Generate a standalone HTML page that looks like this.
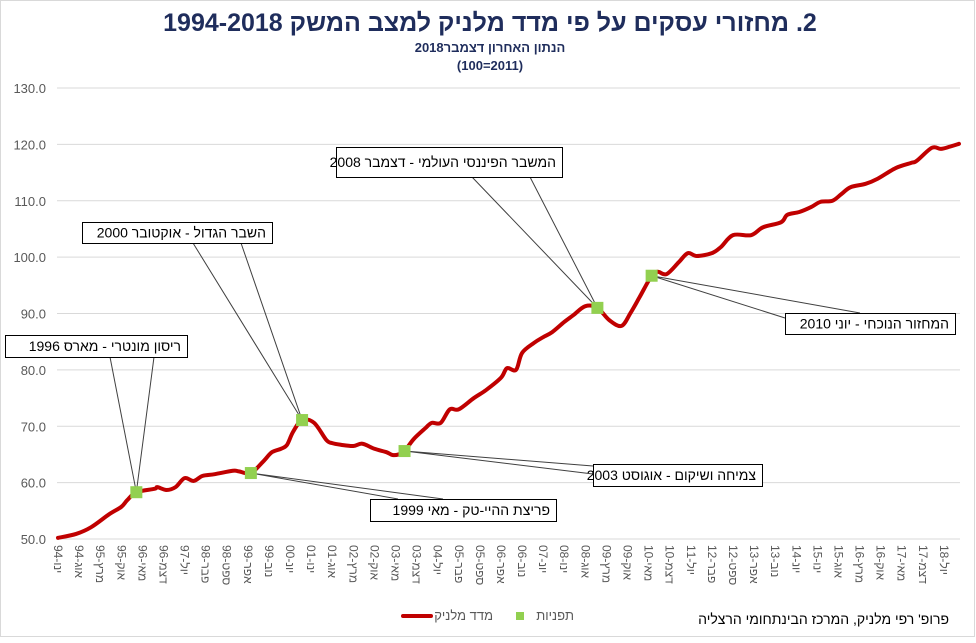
<!DOCTYPE html>
<html><head><meta charset="utf-8"><style>
body{margin:0;background:#fff}
svg text{font-family:"Liberation Sans","DejaVu Sans",sans-serif}
</style></head><body>
<svg id="chart" width="976" height="638" xmlns="http://www.w3.org/2000/svg">
<rect x="0.5" y="0.5" width="974" height="636" fill="#fff" stroke="#d9d9d9"/>
<text x="490" y="31" text-anchor="middle" font-size="25" font-weight="bold" fill="#1f2d5c" direction="rtl">2. מחזורי עסקים על פי מדד מלניק למצב המשק 1994-2018</text>
<text x="490" y="52" text-anchor="middle" font-size="13" font-weight="bold" fill="#1f2d5c" direction="rtl">הנתון האחרון דצמבר2018</text>
<text x="490" y="70" text-anchor="middle" font-size="13" font-weight="bold" fill="#1f2d5c">(100=2011)</text>
<g id="grid"></g><g id="yaxis"></g><g id="xaxis"></g><g id="callouts"></g><g id="series"></g>
<g>
<line x1="403" y1="616" x2="431" y2="616" stroke="#c00000" stroke-width="4" stroke-linecap="round"/>
<text x="493" y="620" text-anchor="start" direction="rtl" font-size="13" fill="#595959">מדד מלניק</text>
<rect x="516" y="612" width="8" height="8" fill="#92d050"/>
<text x="574" y="620" text-anchor="start" direction="rtl" font-size="13" fill="#595959">תפניות</text>
</g>
<text x="949" y="624" text-anchor="start" font-size="14" fill="#000" direction="rtl">פרופ' רפי מלניק, המרכז הבינתחומי הרצליה</text>
</svg>
<script>
const yTicks=[50,60,70,80,90,100,110,120,130];
const monthNames=["ינו","פבר","מרץ","אפר","מאי","יונ","יול","אוג","ספט","אוק","נוב","דצמ"];
const months=[0,6,11,17,21,23,26,32,33,36,39,42,45,48,52,58,60,64,68,71,74,76,78,81,85,89,91,94,98,101,105,109,111,113,115,118,122,124,127,130,133,138,142,147,149,152,154,158,161,164,168,171,175,179,183,187,190,193,197,199,202,206,209,212,217,220,224,230,234,240,242,246,250,253,257,260,263,268,272,278,283,285,290,293,296,299];
const values=[50.2,50.9,52.1,54.4,55.7,56.9,58.3,58.9,59.2,58.7,59.2,60.8,60.3,61.2,61.5,62.1,62.0,61.7,63.7,65.4,66.0,66.7,69.0,71.1,70.6,67.6,67.0,66.7,66.5,66.9,66.0,65.4,64.9,65.0,65.6,67.7,69.7,70.6,70.6,73.0,73.0,75.0,76.4,78.6,80.3,80.0,83.0,84.8,85.8,86.7,88.5,89.7,91.3,91.0,88.8,87.8,90.1,92.9,96.7,97.4,97.0,99.1,100.7,100.2,100.7,101.8,103.9,103.9,105.3,106.2,107.5,108.0,108.9,109.8,110.0,111.2,112.4,113.0,113.9,115.8,116.7,117.1,119.4,119.2,119.6,120.1];
const turnMonths=[26,64,81,115,179,197];
const turnValues=[58.3,61.7,71.1,65.6,91.0,96.7];
const turnLabels=["ריסון מונטרי - מארס 1996","פריצת ההיי-טק - מאי 1999","השבר הגדול - אוקטובר 2000","צמיחה ושיקום - אוגוסט 2003","המשבר הפיננסי העולמי - דצמבר 2008","המחזור הנוכחי - יוני 2010"];
const NS="http://www.w3.org/2000/svg";
const X0=58,X1=959,Y0=539,Y1=88;
function xs(m){return X0+m*(X1-X0)/299;}
function ys(v){return Y0-(v-50)*(Y0-Y1)/80;}
function mk(t,a,p){const e=document.createElementNS(NS,t);for(const k in a)e.setAttribute(k,a[k]);(p||document.getElementById('chart')).appendChild(e);return e;}
const grid=document.getElementById('grid'),ya=document.getElementById('yaxis'),xa=document.getElementById('xaxis');
yTicks.forEach(v=>{
 const l=mk('line',{x1:X0-1,x2:960,y1:ys(v),y2:ys(v),stroke:'#d9d9d9','stroke-width':1},grid);
 
 
 const t=mk('text',{x:46,y:ys(v)+5,'text-anchor':'end','font-size':13,fill:'#595959'},ya);
 
 
 t.textContent=v.toFixed(1);
});
for(let m=0;m<=299;m+=7){
 const yr=String((1994+Math.floor(m/12))%100).padStart(2,'0');
 const x=xs(m);
 const t=mk('text',{x:0,y:0,'font-size':12,fill:'#595959',transform:`translate(${x-4},545) rotate(90)`,direction:'rtl','text-anchor':'end'},xa);
 
 
 t.textContent=monthNames[m%12]+"-"+yr;
}
const boxes=[[5,335,182,22,[[110,357],[154,357]]],[370,499,186,22,[[398,499],[443,499]]],[82,222,190,21,[[193,243],[241,243]]],[593,464,169,22,[[593,466],[593,474]]],[336,147,226,30,[[472,177],[530,177]]],[785,313,170,21,[[785,318],[860,313]]]];
const cg=document.getElementById('callouts');
boxes.forEach((b,i)=>{
 const px=xs(turnMonths[i]),py=ys(turnValues[i]);
 const path=mk('path',{d:`M${b[4][0][0]},${b[4][0][1]}L${px},${py}L${b[4][1][0]},${b[4][1][1]}`,fill:'none',stroke:'#404040','stroke-width':1},cg);
 
 
 const r=mk('rect',{x:b[0]+0.5,y:b[1]+0.5,width:b[2],height:b[3],fill:'#fff',stroke:'#000','stroke-width':1},cg);
 
 
 const t=mk('text',{x:b[0]+b[2]-6,y:b[1]+b[3]/2+5,'text-anchor':'start','font-size':14,fill:'#000',direction:'rtl'},cg);
 
 
 t.textContent=turnLabels[i];
});
const sg=document.getElementById('series');
const P=months.map((m,i)=>[xs(m),ys(values[i])]);
let d=`M${P[0][0]},${P[0][1]}`;
for(let i=0;i<P.length-1;i++){
 const p0=P[Math.max(0,i-1)],p1=P[i],p2=P[i+1],p3=P[Math.min(P.length-1,i+2)];
 d+=`C${p1[0]+(p2[0]-p0[0])/6},${p1[1]+(p2[1]-p0[1])/6} ${p2[0]-(p3[0]-p1[0])/6},${p2[1]-(p3[1]-p1[1])/6} ${p2[0]},${p2[1]}`;
}
const line=mk('path',{d:d,fill:'none',stroke:'#c00000','stroke-width':4,'stroke-linejoin':'round','stroke-linecap':'round'},sg);


turnMonths.forEach((m,i)=>{
 const r=mk('rect',{x:xs(m)-6,y:ys(turnValues[i])-6,width:12,height:12,fill:'#92d050'},sg);
 
 
});
</script>
</body></html>
